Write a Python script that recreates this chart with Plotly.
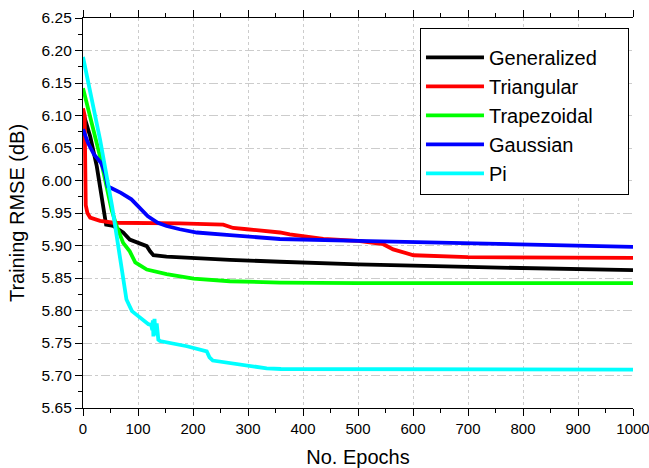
import plotly.graph_objects as go

# ---- data ----
gen_x = [0, 13, 25, 38, 42, 55, 73, 85, 116, 122, 128, 152, 207, 267, 358, 500, 700, 850, 1000]
gen_y = [6.105, 6.068, 6.022, 5.955, 5.932, 5.930, 5.920, 5.909, 5.899, 5.891, 5.885, 5.883,
         5.880, 5.878, 5.875, 5.871, 5.867, 5.864, 5.862]

tri_x = [0, 3, 5, 8, 13, 31, 55, 116, 176, 255, 273, 298, 358, 376, 437, 500, 546, 564, 601, 700, 1000]
tri_y = [6.111, 6.100, 5.962, 5.950, 5.943, 5.938, 5.935, 5.935, 5.934, 5.932, 5.927, 5.925,
         5.920, 5.917, 5.910, 5.907, 5.902, 5.894, 5.885, 5.882, 5.881]

trap_x = [0, 31, 52, 61, 73, 85, 95, 116, 152, 201, 267, 358, 500, 1000]
trap_y = [6.142, 6.037, 5.955, 5.930, 5.904, 5.891, 5.874, 5.863, 5.856, 5.849, 5.845, 5.843,
          5.842, 5.842]

gau_x = [0, 9, 20, 33, 40, 45, 52, 69, 88, 100, 118, 136, 152, 176, 207, 267, 358, 500, 700, 1000]
gau_y = [6.079, 6.058, 6.040, 6.027, 6.012, 5.991, 5.988, 5.981, 5.971, 5.960, 5.945, 5.935,
         5.930, 5.925, 5.920, 5.916, 5.910, 5.907, 5.903, 5.898]

pi_x = [0, 31, 53, 72, 79, 89, 107, 119, 124, 126, 127, 128, 130, 132, 134, 137, 140, 189,
        225, 230, 236, 298, 334, 360, 1000]
pi_y = [6.190, 6.063, 5.960, 5.848, 5.817, 5.799, 5.787, 5.779, 5.778, 5.770, 5.785, 5.760,
        5.787, 5.762, 5.780, 5.755, 5.753, 5.745, 5.737, 5.728, 5.723, 5.715, 5.711, 5.710, 5.709]

names = ["Generalized", "Triangular", "Trapezoidal", "Gaussian", "Pi"]
colors = ["#000000", "#FF0000", "#00FF00", "#0000FF", "#00FFFF"]
series = [(gen_x, gen_y), (tri_x, tri_y), (trap_x, trap_y), (gau_x, gau_y), (pi_x, pi_y)]

x_ticks = list(range(0, 1001, 100))
y_ticks = [5.65, 5.70, 5.75, 5.80, 5.85, 5.90, 5.95, 6.00, 6.05, 6.10, 6.15, 6.20, 6.25]

FONT = "Liberation Sans, Arial, sans-serif"

fig = go.Figure()
for (xs, ys), name, col in zip(series, names, colors):
    fig.add_trace(go.Scatter(x=xs, y=ys, mode="lines", name=name,
                             line=dict(color=col, width=3.8)))

fig.update_layout(
    width=649, height=468,
    margin=dict(l=83, r=16, t=18, b=60, autoexpand=False),
    paper_bgcolor="white", plot_bgcolor="white",
    font=dict(family=FONT, color="black"),
    showlegend=True,
    legend=dict(x=0.6127, y=0.975, xanchor="left", yanchor="top",
                bgcolor="white", bordercolor="black", borderwidth=1,
                itemwidth=58,
                title=dict(text="\u00a0" * 104, font=dict(size=7)),
                font=dict(size=20, family=FONT, color="black")),
    xaxis=dict(range=[0, 1000], tickvals=x_ticks, ticktext=[str(v) for v in x_ticks],
               ticks="outside", ticklen=7, tickwidth=1.3, tickcolor="black",
               minor=dict(dtick=50, tick0=0, ticks="outside", ticklen=4, tickwidth=1.3,
                          tickcolor="black", showgrid=False),
               showline=True, linecolor="black", linewidth=1.3, mirror="allticks",
               showgrid=True, gridcolor="#cccccc", gridwidth=1, griddash="dot",
               zeroline=False, tickfont=dict(size=15), automargin=False,
               ticklabeloverflow="allow",
               title=dict(text="No. Epochs", font=dict(size=20), standoff=17)),
    yaxis=dict(range=[5.65, 6.25], tickvals=y_ticks, ticktext=["%.2f" % v for v in y_ticks],
               ticks="outside", ticklen=7, tickwidth=1.3, tickcolor="black",
               minor=dict(dtick=0.025, tick0=5.65, ticks="outside", ticklen=4, tickwidth=1.3,
                          tickcolor="black", showgrid=False),
               showline=True, linecolor="black", linewidth=1.3,
               showgrid=True, gridcolor="#cccccc", gridwidth=1, griddash="dashdot",
               zeroline=False, tickfont=dict(size=15.5), automargin=False,
               ticklabeloverflow="allow",
               title=dict(text="Training RMSE (dB)", font=dict(size=20), standoff=11)),
)

fig.write_html("out.html", config={"displayModeBar": False},
               post_script="document.body.style.margin='0';")
